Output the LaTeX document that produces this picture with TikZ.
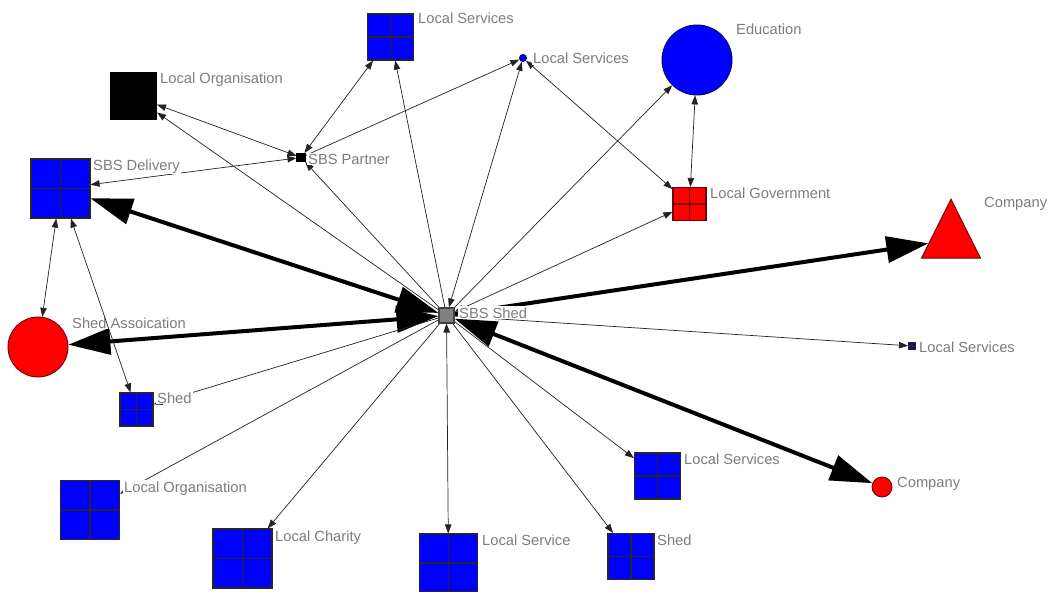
\documentclass[tikz,border=0pt]{standalone}
\usepackage{fontspec}
\setmainfont{Liberation Sans}
\usetikzlibrary{arrows.meta,shapes.geometric}

\definecolor{netblue}{RGB}{0,0,255}
\definecolor{netred}{RGB}{255,0,0}
\definecolor{netgray}{RGB}{128,128,128}
\definecolor{labelgray}{RGB}{125,125,125}
\definecolor{edgegray}{RGB}{35,35,35}

\pgfdeclarelayer{edges}
\pgfdeclarelayer{front}
\pgfsetlayers{edges,main,front}

\tikzset{
  box/.style={rectangle, minimum size=#1, inner sep=0pt, line width=1.1pt},
  crossed/.style={path picture={
      \draw[#1, line width=1.1pt]
        (path picture bounding box.north) -- (path picture bounding box.south)
        (path picture bounding box.west) -- (path picture bounding box.east);}},
  bluegrid/.style={box=#1, fill=netblue, draw=black!85, crossed=black!85},
  redgrid/.style={box=#1, fill=netred, draw=red!45!black, crossed=red!45!black},
  solidbox/.style={box=#1, fill=black, draw=black},
  bluedot/.style={circle, inner sep=0pt, minimum size=#1, fill=netblue, draw=blue!40!black, line width=0.9pt},
  reddot/.style={circle, inner sep=0pt, minimum size=#1, fill=netred, draw=red!45!black, line width=0.9pt},
  redtri/.style={isosceles triangle, isosceles triangle stretches, shape border rotate=90,
      minimum width=59pt, minimum height=59pt, inner sep=0pt,
      fill=netred, draw=red!45!black, line width=0.9pt},
  lbl/.style={anchor=base west, inner sep=1pt, fill=white, text=labelgray,
      font=\fontsize{14.7pt}{17pt}\selectfont},
  tie/.style={draw=edgegray, line width=0.7pt, -{Triangle[length=9pt,width=6.5pt]}},
  tietwo/.style={draw=edgegray, line width=0.7pt,
      {Triangle[length=9pt,width=6.5pt]}-{Triangle[length=9pt,width=6.5pt]}},
  heavytie/.style={draw=black, line width=4pt, -{Triangle[length=42pt,width=26pt]}},
  heavytwo/.style={draw=black, line width=4pt,
      {Triangle[length=42pt,width=26pt]}-{Triangle[length=42pt,width=26pt]}},
}

\begin{document}
\begin{tikzpicture}[x=1pt, y=-1pt]
  \useasboundingbox (0,0) rectangle (1056,591);

  % actors
  \node[box=15pt, fill=netgray, draw=black!75] (shed) at (446.5,315.5) {};
  \node[solidbox=8pt] (partner) at (301,157.5) {};
  \node[solidbox=46pt] (lorgA) at (133.5,96) {};
  \node[bluegrid=59pt] (delivery) at (60.5,188.5) {};
  \node[bluegrid=46pt] (lservA) at (390.5,37) {};
  \node[bluedot=7pt] (lservB) at (523,58) {};
  \node[bluedot=70pt] (edu) at (697,60) {};
  \node[redgrid=33pt] (lgov) at (689.5,204) {};
  \node[redtri, anchor=apex] (compA) at (951,198) {};
  \node[reddot=60pt] (assoc) at (38,347) {};
  \node[bluegrid=33pt] (shedA) at (136.5,409.5) {};
  \node[box=7pt, fill=blue!70!black, draw=black!85, crossed=black!85] (lservC) at (912,346) {};
  \node[reddot=20pt] (compB) at (882,487) {};
  \node[bluegrid=46pt] (lservD) at (657.5,476) {};
  \node[bluegrid=59pt] (lorgB) at (90,510) {};
  \node[bluegrid=59pt] (charity) at (242.5,558.5) {};
  \node[bluegrid=58pt] (lservE) at (448.5,563) {};
  \node[bluegrid=46pt] (shedB) at (631,556.5) {};

  % ties, below the actors
  \begin{pgfonlayer}{edges}
    \fill[white] (0,0) rectangle (1056,591);

    \draw[heavytwo] (shed) -- (delivery);
    \draw[heavytwo] (shed) -- (assoc);
    \draw[heavytie] (shed) -- (compA);
    \draw[heavytwo] (shed) -- (compB);

    \draw[tie] (shed) -- (lorgA);
    \draw[tie] (shed) -- (partner);
    \draw[tie] (shed) -- (lservA);
    \draw[tietwo] (shed) -- (lservB);
    \draw[tie] (shed) -- (edu);
    \draw[tietwo] (shed) -- (lgov);
    \draw[tie] (shed) -- (lservC);
    \draw[tie] (shed) -- (lservD);
    \draw[tie] (shed) -- (shedB);
    \draw[tietwo] (shed) -- (lservE);
    \draw[tie] (shed) -- (charity);
    \draw[tie] (shed) -- (lorgB);
    \draw[tie] (shed) -- (shedA);

    \draw[tietwo] (partner) -- (lorgA);
    \draw[tietwo] (partner) -- (delivery);
    \draw[tietwo] (partner) -- (lservA);
    \draw[tie] (partner) -- (lservB);
    \draw[tietwo] (lgov) -- (edu);
    \draw[tietwo] (lgov) -- (lservB);
    \draw[tietwo] (delivery) -- (assoc);
  \end{pgfonlayer}

  % labels
  \node[lbl] (tShed) at (458,318) {SBS Shed};
  \node[lbl] (tPartner) at (307,164) {SBS Partner};
  \node[lbl] (tLorgA) at (159,84) {Local Organisation};
  \node[lbl] (tDelivery) at (92,170) {SBS Delivery};
  \node[lbl] (tLservA) at (417,24) {Local Services};
  \node[lbl] (tLservB) at (532,64) {Local Services};
  \node[lbl] (tEdu) at (735,35) {Education};
  \node[lbl] (tLgov) at (709,198) {Local Government};
  \node[lbl] (tCompA) at (983,207) {Company};
  \node[lbl] (tAssoc) at (71,328) {Shed Assoication};
  \node[lbl] (tShedA) at (156,403) {Shed};
  \node[lbl] (tLservC) at (918,352) {Local Services};
  \node[lbl] (tCompB) at (896,487) {Company};
  \node[lbl] (tLservD) at (683,464) {Local Services};
  \node[lbl] (tLorgB) at (123,492) {Local Organisation};
  \node[lbl] (tCharity) at (274,541) {Local Charity};
  \node[lbl] (tLservE) at (481,545) {Local Service};
  \node[lbl] (tShedB) at (656,545) {Shed};

  % this tie crosses over the association label
  \begin{pgfonlayer}{front}
    \draw[tietwo] (delivery) -- (shedA);
  \end{pgfonlayer}
\end{tikzpicture}
\end{document}
